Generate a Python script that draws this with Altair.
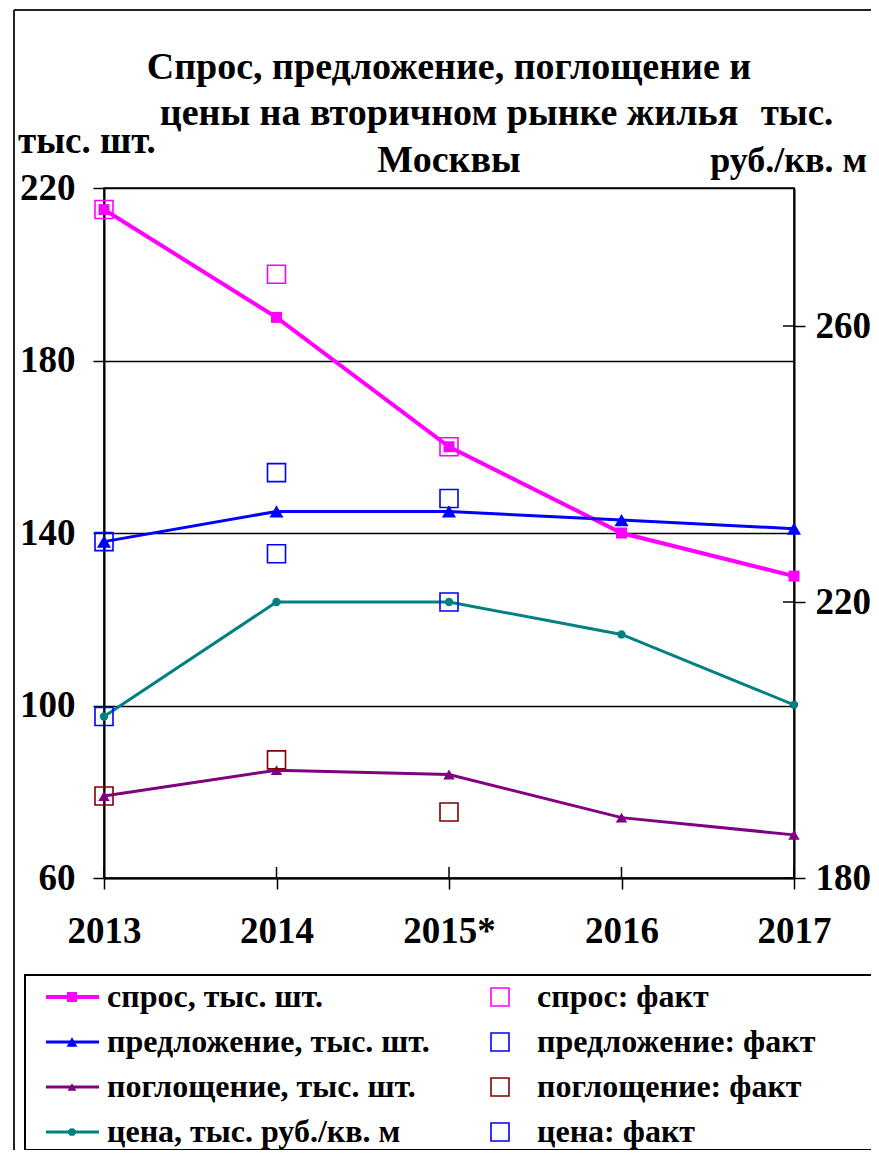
import altair as alt
import pandas as pd

# ---------------- data ----------------
years = ["2013", "2014", "2015*", "2016", "2017"]
demand = [215, 190, 160, 140, 130]
supply = [138, 145, 145, 143, 141]
absorption = [79, 85, 84, 74, 70]
price = [203.4, 220, 220, 215.3, 205.1]

fact_years = ["2013", "2014", "2015*"]
demand_fact = [215, 200, 160]
supply_fact = [138, 154, 148]
absorption_fact = [79, 87.4, 75.3]
price_fact = [203.4, 227, 220]

left_ticks = [60, 100, 140, 180, 220]
right_ticks = [180, 220, 260]

title_lines = ["Спрос, предложение, поглощение и",
               "цены на вторичном рынке жилья",
               "Москвы"]
left_unit = "тыс. шт."
right_unit_lines = ["тыс.", "руб./кв. м"]

line_labels = ["спрос, тыс. шт.", "предложение, тыс. шт.",
               "поглощение, тыс. шт.", "цена, тыс. руб./кв. м"]
fact_labels = ["спрос: факт", "предложение: факт",
               "поглощение: факт", "цена: факт"]

# ---------------- styles ----------------
FONT = "Liberation Serif"
MAGENTA, BLUE, PURPLE, TEAL, DARKRED = "#FF00FF", "#0000FF", "#800080", "#008080", "#800000"
line_styles = [
    dict(color=MAGENTA, width=4, shape="square", size=121),
    dict(color=BLUE, width=3, shape="triangle-up", size=200),
    dict(color=PURPLE, width=3, shape="triangle-up", size=130),
    dict(color=TEAL, width=3, shape="circle", size=70),
]
fact_colors = [MAGENTA, BLUE, DARKRED, BLUE]
legend_marker_sizes = [100, 120, 80, 60]

W, H = 690, 690

x_enc = alt.X("year:N", sort=years,
              scale=alt.Scale(type="point", domain=years, padding=0),
              axis=alt.Axis(title=None, labelAngle=0, labelPadding=53,
                            labelBaseline="alphabetic", tickSize=11, grid=False))
y_left = alt.Y("value:Q", scale=alt.Scale(domain=[60, 220], nice=False, zero=False),
               axis=alt.Axis(values=left_ticks, title=None, grid=True, orient="left",
                             tickSize=11, labelPadding=18))
y_right = alt.Y("value:Q", scale=alt.Scale(domain=[180, 280], nice=False, zero=False),
                axis=alt.Axis(values=right_ticks, title=None, grid=False, orient="right",
                              tickSize=11, labelPadding=10))


def df(yrs, vals):
    return pd.DataFrame({"year": yrs, "value": vals})


def series_layers(vals, st, y_enc):
    d = df(years, vals)
    ln = alt.Chart(d).mark_line(color=st["color"], strokeWidth=st["width"]).encode(x=x_enc, y=y_enc)
    pt = alt.Chart(d).mark_point(shape=st["shape"], filled=True, opacity=1,
                                 size=st["size"], color=st["color"]).encode(x=x_enc, y=y_enc)
    return [ln, pt]


def fact_layer(vals, color, y_enc):
    return alt.Chart(df(fact_years, vals)).mark_point(
        shape="square", filled=False, size=324, strokeWidth=1.6, color=color, opacity=1
    ).encode(x=x_enc, y=y_enc)


# ---------------- left-axis group ----------------
x_inner_ticks = alt.Chart(pd.DataFrame({"year": years})).mark_rule(
    color="black", strokeWidth=1.5).encode(x=x_enc, y=alt.value(H - 11), y2=alt.value(H))

left_layers = [x_inner_ticks]
for vals, st in zip([demand, supply, absorption], line_styles[:3]):
    left_layers += series_layers(vals, st, y_left)
left_layers += [fact_layer(demand_fact, fact_colors[0], y_left),
                fact_layer(supply_fact, fact_colors[1], y_left),
                fact_layer(absorption_fact, fact_colors[2], y_left)]
left_group = alt.layer(*left_layers)

# ---------------- right-axis group ----------------
r_inner_ticks = alt.Chart(pd.DataFrame({"value": right_ticks})).mark_rule(
    color="black", strokeWidth=1.5).encode(y=y_right, x=alt.value(W - 11), x2=alt.value(W))
right_layers = [r_inner_ticks] + series_layers(price, line_styles[3], y_right)
right_layers.append(fact_layer(price_fact, fact_colors[3], y_right))
right_group = alt.layer(*right_layers)

# ---------------- legend, titles, frame ----------------
leg_y = alt.Y("row:Q", scale=alt.Scale(domain=[0, 3], range=[809, 944]), axis=None)
legend_df = pd.DataFrame({"row": list(range(4)), "label": line_labels,
                          "fact": fact_labels, "fc": fact_colors})
one = alt.Data(values=[{}])

deco = []
# outer frame
deco.append(alt.Chart(one).mark_rule(color="#222", strokeWidth=2).encode(
    x=alt.value(-90), y=alt.value(-178), y2=alt.value(1000)))
deco.append(alt.Chart(one).mark_rule(color="#222", strokeWidth=2).encode(
    x=alt.value(-90), x2=alt.value(900), y=alt.value(-178)))
# legend box
deco.append(alt.Chart(one).mark_rect(fillOpacity=0, stroke="black", strokeWidth=2).encode(
    x=alt.value(-79), x2=alt.value(900), y=alt.value(787), y2=alt.value(962)))

for i, st in enumerate(line_styles):
    d = legend_df.iloc[[i]]
    deco.append(alt.Chart(d).mark_rule(color=st["color"], strokeWidth=st["width"]).encode(
        x=alt.value(-58), x2=alt.value(-5), y=leg_y))
    deco.append(alt.Chart(d).mark_point(shape=st["shape"], filled=True, opacity=1,
                                        size=legend_marker_sizes[i], color=st["color"]).encode(
        x=alt.value(-32), y=leg_y))

deco.append(alt.Chart(legend_df).mark_text(font=FONT, fontSize=32, fontWeight="bold",
                                           align="left", baseline="middle", color="black").encode(
    x=alt.value(3), y=leg_y, text="label:N"))
deco.append(alt.Chart(legend_df).mark_point(shape="square", filled=False, size=324,
                                            strokeWidth=1.6, opacity=1).encode(
    x=alt.value(396), y=leg_y, color=alt.Color("fc:N", scale=None)))
deco.append(alt.Chart(legend_df).mark_text(font=FONT, fontSize=32, fontWeight="bold",
                                           align="left", baseline="middle", color="black").encode(
    x=alt.value(433), y=leg_y, text="fact:N"))

# titles
for line, yb in zip(title_lines, [-109, -63, -16]):
    deco.append(alt.Chart(one).mark_text(font=FONT, fontSize=38, fontWeight="bold",
                                         align="center", baseline="alphabetic", color="black").encode(
        x=alt.value(W / 2), y=alt.value(yb), text=alt.value(line)))
deco.append(alt.Chart(one).mark_text(font=FONT, fontSize=37, fontWeight="bold",
                                     align="left", baseline="alphabetic", color="black").encode(
    x=alt.value(-86), y=alt.value(-35), text=alt.value(left_unit)))
deco.append(alt.Chart(one).mark_text(font=FONT, fontSize=37, fontWeight="bold",
                                     align="center", baseline="alphabetic", color="black").encode(
    x=alt.value(W + 3), y=alt.value(-63), text=alt.value(right_unit_lines[0])))
deco.append(alt.Chart(one).mark_text(font=FONT, fontSize=36, fontWeight="bold",
                                     align="right", baseline="alphabetic", color="black").encode(
    x=alt.value(W + 73), y=alt.value(-16), text=alt.value(right_unit_lines[1])))

legend_group = alt.layer(*deco)

chart = alt.layer(left_group, right_group, legend_group).resolve_scale(
    y="independent"
).properties(
    width=W, height=H,
    autosize=alt.AutoSizeParams(type="none"),
    padding={"left": 96, "top": 180, "right": 77, "bottom": 272},
).configure_axis(
    labelFont=FONT, labelFontSize=37, labelFontWeight="bold", labelColor="black",
    domainColor="black", domainWidth=2, tickColor="black", tickWidth=1.5,
    gridColor="black", gridWidth=1.5, gridOpacity=1,
).configure_view(stroke="black", strokeWidth=1.5)

chart.save("out.html", embed_options={"renderer": "svg", "actions": False})
